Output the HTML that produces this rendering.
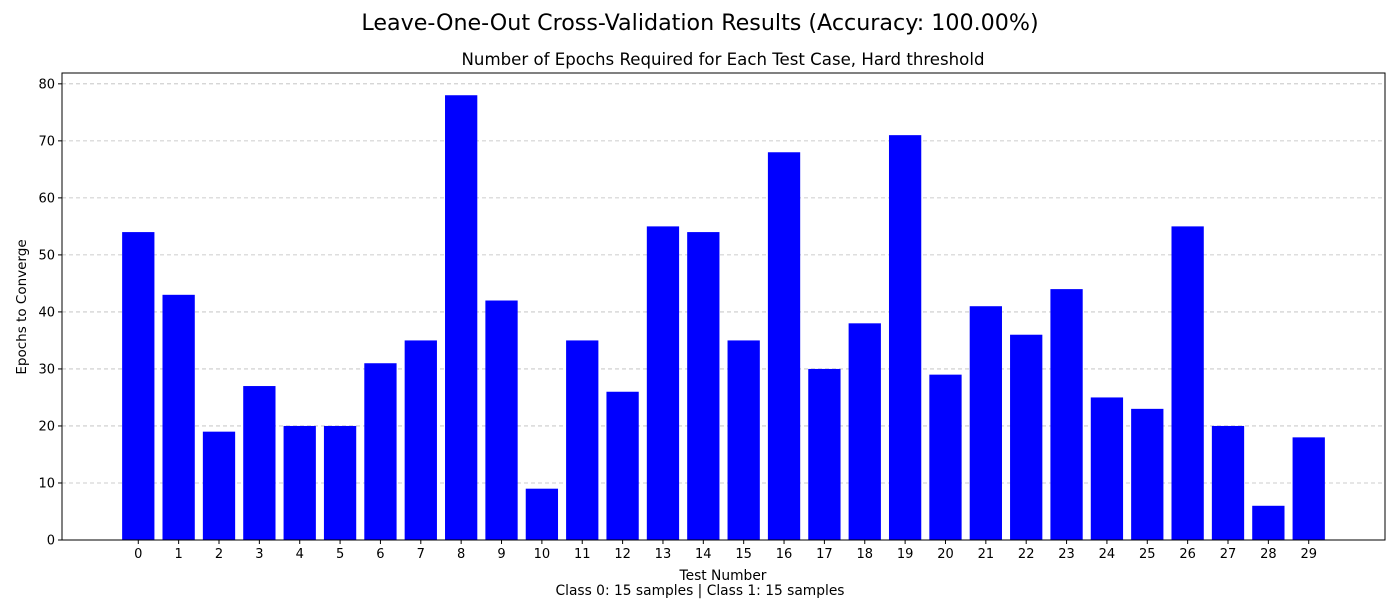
<!DOCTYPE html>
<html><head><meta charset="utf-8"><style>
body{margin:0;background:#fff;font-family:"Liberation Sans","DejaVu Sans",sans-serif;}
svg text{font-family:"DejaVu Sans","Liberation Sans",sans-serif;}
</style></head><body>
<svg id="c" width="1400" height="600" xmlns="http://www.w3.org/2000/svg">
<text x="700" y="30" font-size="22.2" text-anchor="middle">Leave-One-Out Cross-Validation Results (Accuracy: 100.00%)</text>
<text x="723" y="65" font-size="16.6" text-anchor="middle">Number of Epochs Required for Each Test Case, Hard threshold</text>
<text x="723" y="580" font-size="13.8" text-anchor="middle">Test Number</text>
<text x="700" y="595" font-size="13.8" text-anchor="middle">Class 0: 15 samples | Class 1: 15 samples</text>
<text transform="translate(26,307) rotate(-90)" font-size="13.5" text-anchor="middle">Epochs to Converge</text>
<g id="grid"></g><g id="bars"></g><g id="axes"></g>
</svg>
<script>
const categories=[0,1,2,3,4,5,6,7,8,9,10,11,12,13,14,15,16,17,18,19,20,21,22,23,24,25,26,27,28,29];
const epochs=[54,43,19,27,20,20,31,35,78,42,9,35,26,55,54,35,68,30,38,71,29,41,36,44,25,23,55,20,6,18];
const yTicks=[0,10,20,30,40,50,60,70,80];
const L=62,R=1385,T=73,B=540,ymax=81.9;
const xmin=-1.89,xmax=30.89;
const NS="http://www.w3.org/2000/svg";
const X=v=>L+(v-xmin)/(xmax-xmin)*(R-L);
const Y=v=>B-v/ymax*(B-T);
function mk(t,a,p){const e=document.createElementNS(NS,t);for(const k in a)e.setAttribute(k,a[k]);p.appendChild(e);return e;}
const g=document.getElementById('grid'),bg=document.getElementById('bars'),ax=document.getElementById('axes');
yTicks.forEach(v=>{
 const l=mk('line',{x1:L,x2:R,y1:Y(v),y2:Y(v),stroke:'#bdbdbd','stroke-dasharray':'4,3','stroke-width':0.8},g);
 
 
 const tk=mk('line',{x1:L-4,x2:L,y1:Y(v),y2:Y(v),stroke:'#000'},ax);
 
 
 const t=mk('text',{x:L-7,y:Y(v)+4.5,'font-size':13,'text-anchor':'end'},ax);t.textContent=v;
 
 
});
const w=(X(1)-X(0))*0.8;
categories.forEach((c,i)=>{
 const r=mk('rect',{x:X(c)-w/2,y:Y(epochs[i]),width:w,height:Y(0)-Y(epochs[i]),fill:'#0000ff'},bg);
 
 
 const tk=mk('line',{x1:X(c),x2:X(c),y1:B,y2:B+4,stroke:'#000'},ax);
 
 
 const t=mk('text',{x:X(c),y:B+18,'font-size':13,'text-anchor':'middle'},ax);t.textContent=c;
 
 
});
const f=mk('rect',{x:L,y:T,width:R-L,height:B-T,fill:'none',stroke:'#000','stroke-width':1},ax);


</script>
</body></html>
